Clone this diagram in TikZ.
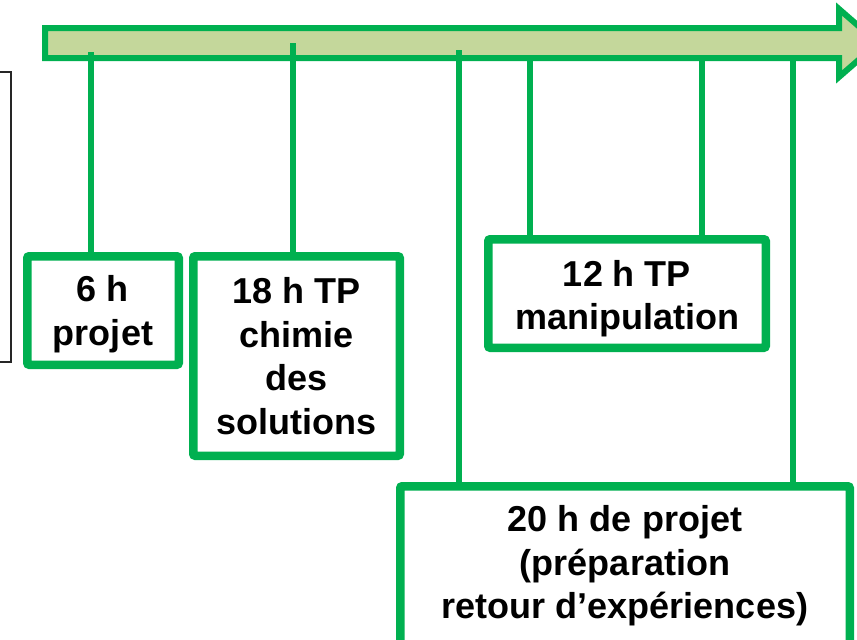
\documentclass[tikz,border=0pt]{standalone}
\usepackage{fontspec}
\setmainfont{Liberation Sans}
\definecolor{gborder}{HTML}{00B050}
\definecolor{gfill}{HTML}{C4D79B}
\begin{document}
\begin{tikzpicture}[x=1pt,y=-1pt,
  box/.style={draw=gborder, line width=8.5pt, rounded corners=2pt, fill=white,
    inner sep=0pt, outer sep=0pt},
  boxtext/.style={align=center, font=\fontsize{36}{43.5}\selectfont\bfseries,
    inner sep=0pt},
  tick/.style={draw=gborder, line width=5.5pt},
  timeline/.style={draw=gborder, fill=gfill, line width=6pt, line join=miter}]
\useasboundingbox (0,0) rectangle (857,640);
\clip (0,0) rectangle (857,640);
% left partial box
\node[draw=black!85, line width=1.5pt, minimum width=40pt, minimum height=290pt,
  inner sep=0pt, outer sep=0pt] (leftbox) at (-9,217) {};
% timeline arrow
\path[timeline] (45,28) -- (839,28) -- (839,9) -- (878,43) -- (839,77)
  -- (839,58) -- (45,58) -- cycle;
% tick coordinates on the arrow
\coordinate (t1) at (91,52);
\coordinate (t2) at (293,43);
\coordinate (t3) at (459,50);
\coordinate (t4) at (530,58);
\coordinate (t5) at (702,58);
\coordinate (t6) at (793,58);
% boxes
\node[box, minimum width=151.5pt, minimum height=108.5pt] (b6) at (103,310.5) {};
\node[box, minimum width=206.5pt, minimum height=199.5pt] (b18) at (296.5,356) {};
\node[box, minimum width=277.5pt, minimum height=108.5pt] (b12) at (627,293.5) {};
\node[box, minimum width=449.5pt, minimum height=159.5pt] (b20) at (625,566) {};
% texts
\node[boxtext] (x6) at (103,314) {6 h\\projet};
\node[boxtext] (x18) at (296.5,356) {18 h TP\\chimie\\des\\solutions};
\node[boxtext] (x12) at (627,298.5) {12 h TP\\manipulation};
\node[boxtext] (x20) at (625,566) {20 h de projet\\(préparation\\retour d’expériences)};
% connectors
\draw[tick] (t1) -- (t1 |- b6.north);
\draw[tick] (t2) -- (t2 |- b18.north);
\draw[tick] (t3) -- (t3 |- b20.north);
\draw[tick] (t4) -- (t4 |- b12.north);
\draw[tick] (t5) -- (t5 |- b12.north);
\draw[tick] (t6) -- (t6 |- b20.north);
\end{tikzpicture}
\end{document}
